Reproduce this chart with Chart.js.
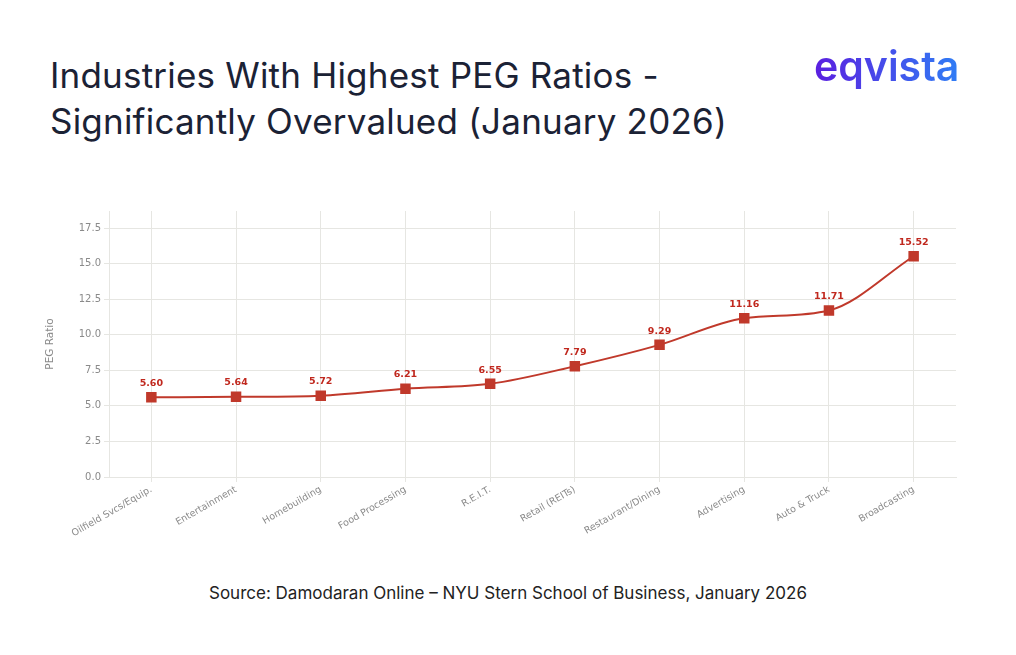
<!DOCTYPE html>
<html><head><meta charset="utf-8">
<script src="https://cdn.jsdelivr.net/npm/chart.js@4"></script>
<style>
body{margin:0;width:1016px;height:655px;background:#fff;position:relative;overflow:hidden;font-family:Inter,"Open Sans",sans-serif}
#t{position:absolute;left:50px;top:52px;font-size:35px;line-height:46px;color:#1b2235;letter-spacing:0.2px}
#logo{position:absolute;left:814px;top:41px;font-size:41px;font-weight:600;letter-spacing:0px;background:linear-gradient(90deg,#5b1fe0,#2f7df5);-webkit-background-clip:text;color:transparent}
#s{position:absolute;left:0;width:1016px;top:583px;text-align:center;font-size:17px;color:#222}
#c{position:absolute;left:40px;top:195px;width:930px;height:370px}
</style></head><body>
<div id="t">Industries With Highest PEG Ratios -<br>Significantly Overvalued (January 2026)</div>
<div id="logo">eqvista</div>
<div id="c"><canvas id="cv"></canvas></div>
<div id="s">Source: Damodaran Online – NYU Stern School of Business, January 2026</div>
<script>
const categories=["Oilfield Svcs/Equip.","Entertainment","Homebuilding","Food Processing","R.E.I.T.","Retail (REITs)","Restaurant/Dining","Advertising","Auto & Truck","Broadcasting"];
const pegValues=[5.60,5.64,5.72,6.21,6.55,7.79,9.29,11.16,11.71,15.52];
const yTicks=[0,2.5,5,7.5,10,12.5,15,17.5];
const red='#c0392b';
const labels={id:'lbl',afterDatasetsDraw(ch){const c=ch.ctx;const m=ch.getDatasetMeta(0);c.save();c.font='bold 9.5px "DejaVu Sans"';c.fillStyle='#c0281e';c.textAlign='center';c.textBaseline='bottom';m.data.forEach((p,i)=>c.fillText(pegValues[i].toFixed(2),p.x,p.y-9));c.restore();}};
new Chart(document.getElementById('cv'),{type:'line',
data:{labels:categories,datasets:[{data:pegValues,borderColor:red,borderWidth:2,backgroundColor:red,pointStyle:'rect',pointRadius:6,pointHoverRadius:6,cubicInterpolationMode:'monotone'}]},
options:{responsive:true,maintainAspectRatio:false,animation:false,layout:{padding:{top:16,right:14}},
plugins:{legend:{display:false},tooltip:{enabled:false}},
scales:{
x:{offset:true,grid:{color:'#e6e6e2',offset:false,tickLength:5},border:{color:'#e6e6e2'},
 ticks:{color:'#8a8a8a',font:{size:9.5,family:'DejaVu Sans'},maxRotation:30,minRotation:30,padding:2},afterFit(s){s.height=88;}},
y:{min:0,max:18.7,grid:{color:'#e6e6e2',tickLength:5},border:{color:'#e6e6e2'},
 afterBuildTicks(s){s.ticks=yTicks.map(v=>({value:v}));},
 ticks:{color:'#8a8a8a',font:{size:10,family:'DejaVu Sans'},callback:v=>Number(v).toFixed(1)},
 title:{display:true,text:'PEG Ratio',color:'#8a8a8a',font:{size:10.5,family:'DejaVu Sans'}},afterFit(s){s.width=69;}}}},
plugins:[labels]});
</script></body></html>
